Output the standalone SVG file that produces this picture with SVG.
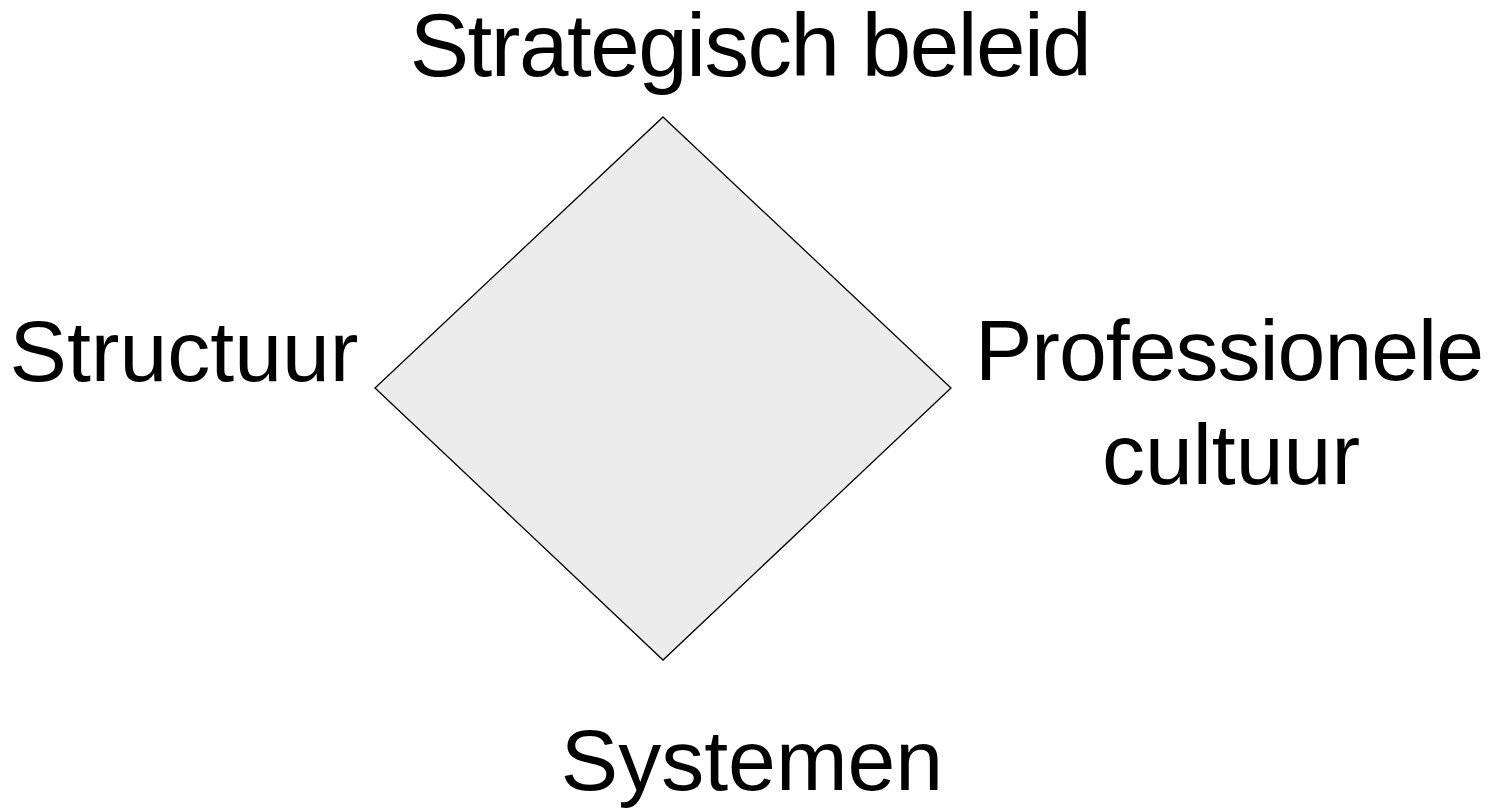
<svg xmlns="http://www.w3.org/2000/svg" width="1499" height="808" viewBox="0 0 1499 808">
<style>
.lbl{font-family:"Liberation Sans",Arial,sans-serif;font-size:86px;fill:#000}
.shape{fill:#ececec;stroke:#000;stroke-width:1.3}
</style>
<rect width="1499" height="808" fill="#fff"/>
<g id="diamond">
<polygon class="shape" points="663,117 951,388 663,660 375,388"/>
</g>
<g id="connectors"></g>
<g id="node-strategisch"><text class="lbl" x="750" y="76" text-anchor="middle" style="font-size:89px;letter-spacing:-1.5px">Strategisch beleid</text></g>
<g id="node-structuur"><text class="lbl" x="184" y="381" text-anchor="middle">Structuur</text></g>
<g id="node-cultuur"><text class="lbl" text-anchor="middle"><tspan x="1229" y="380" style="letter-spacing:-1px">Professionele</tspan><tspan x="1231" y="484">cultuur</tspan></text></g>
<g id="node-systemen"><text class="lbl" x="752" y="790" text-anchor="middle">Systemen</text></g>
</svg>
